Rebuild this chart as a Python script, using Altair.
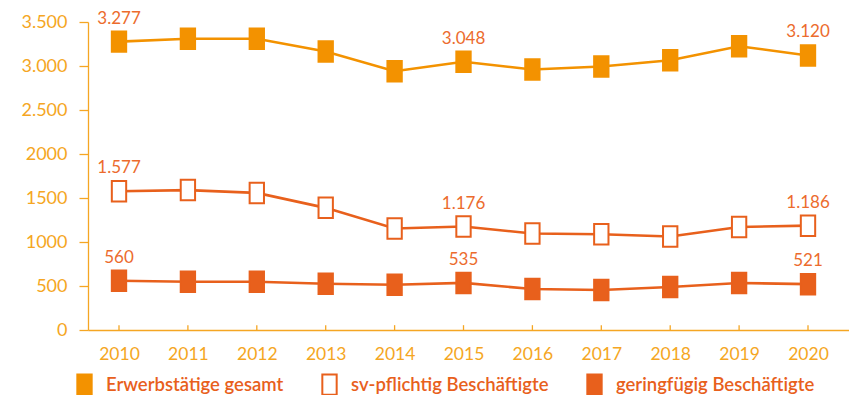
import altair as alt
import pandas as pd

years = list(range(2010, 2021))
erwerb = [3277, 3310, 3310, 3165, 2940, 3048, 2960, 2995, 3065, 3225, 3120]
sv = [1577, 1590, 1558, 1388, 1154, 1176, 1097, 1088, 1062, 1170, 1186]
gering = [560, 549, 549, 526, 515, 535, 466, 455, 489, 534, 521]
series = ["Erwerbstätige gesamt", "sv-pflichtig Beschäftigte", "geringfügig Beschäftigte"]
label_years = [2010, 2015, 2020]
y_ticks = [0, 500, 1000, 1500, 2000, 2500, 3000, 3500]
y_tick_labels = ["0", "500", "1000", "1500", "2000", "2.500", "3.000", "3.500"]

rows = []
for name, vals in zip(series, [erwerb, sv, gering]):
    for yr, v in zip(years, vals):
        lab = f"{v:,}".replace(",", ".") if yr in label_years else ""
        rows.append({"year": yr, "value": v, "series": name, "label": lab})
df = pd.DataFrame(rows)
ticks_df = pd.DataFrame({"year": years})

AXIS = "#F5A623"
ORANGE = "#F39200"
RED = "#E8601C"
LABEL = "#EC6B2D"
FONT = "Lato"
SHAPE = "M-0.7,-1L0.7,-1L0.7,1L-0.7,1Z"

x_scale = alt.Scale(domain=[2009.55, 2020.595], nice=False, zero=False)
y_scale = alt.Scale(domain=[0, 3500], nice=False)
fill_scale = alt.Scale(domain=series, range=[ORANGE, "#FFFFFF", RED])
stroke_scale = alt.Scale(domain=series, range=[ORANGE, RED, RED])
# same mapping as stroke_scale, listed in another order so the hidden line legend
# is not merged with the marker legend
line_scale = alt.Scale(domain=[series[0], series[2], series[1]], range=[ORANGE, RED, RED])

label_expr = (
    "[" + ",".join(f"'{s}'" for s in y_tick_labels) + "]"
    + "[indexof([" + ",".join(str(t) for t in y_ticks) + "], datum.value)]"
)

x_enc = alt.X(
    "year:Q", scale=x_scale, title=None,
    axis=alt.Axis(values=years, format="d", ticks=False, grid=False,
                  domainColor=AXIS, domainWidth=1.3, labelColor=AXIS,
                  labelFont=FONT, labelFontSize=17.5, labelPadding=15),
)
y_enc = alt.Y(
    "value:Q", scale=y_scale, title=None,
    axis=alt.Axis(values=y_ticks, labelExpr=label_expr, grid=False,
                  domainColor=AXIS, domainWidth=1.3, tickColor=AXIS,
                  tickWidth=1.3, tickSize=9, labelColor=AXIS,
                  labelFont=FONT, labelFontSize=18, labelPadding=12),
)

legend = alt.Legend(
    title=None, orient="none", legendX=-15, legendY=351, direction="horizontal",
    symbolType=SHAPE, symbolSize=420, symbolStrokeWidth=2, symbolOpacity=1,
    labelFont=FONT, labelFontSize=18.5, labelFontWeight=600, labelColor=RED,
    labelOffset=10, columnPadding=34, labelLimit=400,
)

lines = alt.Chart(df).transform_calculate(
    line_series="datum.series"
).mark_line(strokeWidth=2.6).encode(
    x=x_enc, y=y_enc,
    color=alt.Color("line_series:N", scale=line_scale, legend=None),
)

points = alt.Chart(df).mark_point(
    shape=SHAPE, size=420, filled=True, strokeWidth=2, opacity=1
).encode(
    x=x_enc, y=y_enc,
    fill=alt.Fill("series:N", scale=fill_scale, legend=legend),
    stroke=alt.Stroke("series:N", scale=stroke_scale, legend=legend),
)

texts = alt.Chart(df).mark_text(
    dy=-18, baseline="alphabetic", fontSize=17, font=FONT, color=LABEL
).encode(
    x=x_enc, y=y_enc, text="label:N"
).transform_filter("datum.label != ''")

ticks = alt.Chart(ticks_df).mark_rule(color=AXIS, strokeWidth=1.3).encode(
    x=alt.X("year:Q", scale=x_scale),
    y=alt.datum(0),
    y2=alt.datum(55),
)

chart = alt.layer(ticks, lines, points, texts).properties(
    width=761, height=308,
    padding={"left": 80, "top": 14, "right": 0, "bottom": 65},
    autosize=alt.AutoSizeParams(type="none"),
).configure_view(stroke=None)

chart.save("out.html", embed_options={"renderer": "svg", "actions": False})
